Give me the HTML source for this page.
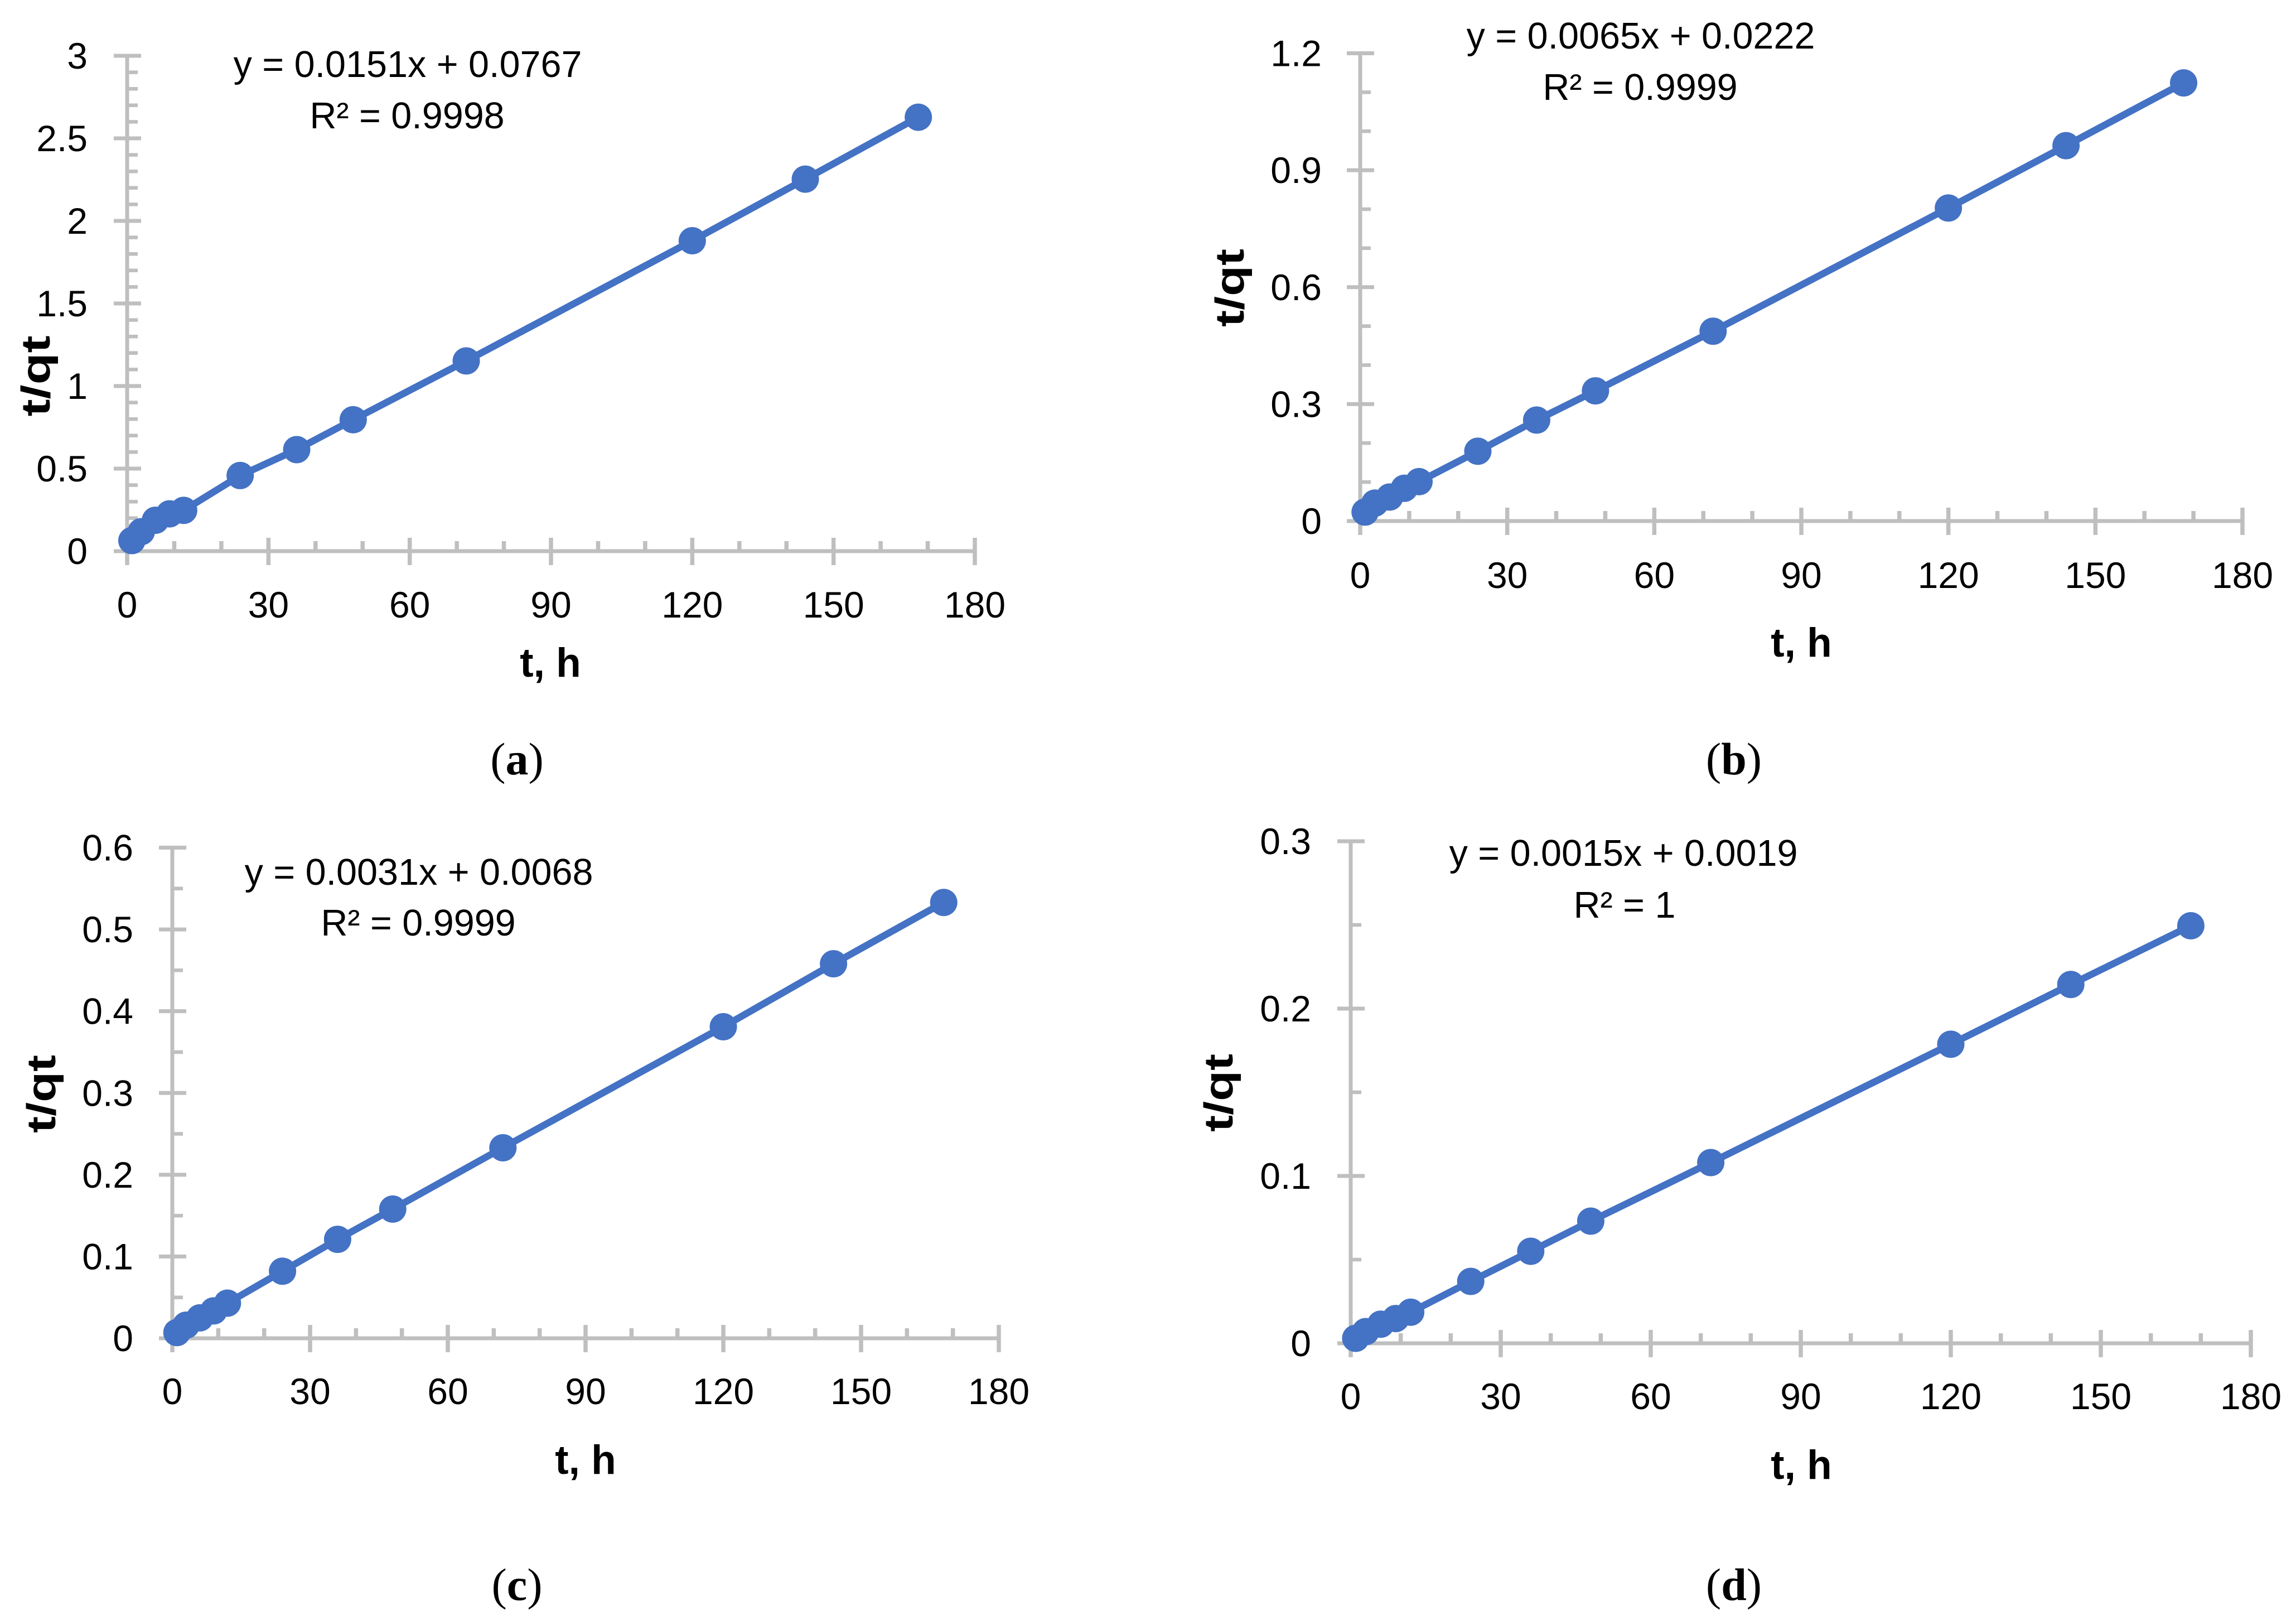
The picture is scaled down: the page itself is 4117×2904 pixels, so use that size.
<!DOCTYPE html>
<html lang="en">
<head>
<meta charset="utf-8">
<title>Pseudo-second-order kinetic plots of t/qt against t</title>
<style>
  html, body { margin: 0; padding: 0; background: #ffffff; }
  svg { display: block; }
  text { font-family: "Liberation Sans", sans-serif; fill: #000000; }
  .eq { font-size: 66.5px; text-anchor: middle; }
  .tick { font-size: 66px; }
  .ytitle { font-size: 72px; font-weight: bold; text-anchor: middle; }
  .xtitle { font-size: 73px; font-weight: bold; text-anchor: middle; }
  .cap { font-family: "Liberation Serif", serif; font-size: 82px; text-anchor: middle; }
  .cap .b { font-weight: bold; }
</style>
</head>
<body>
<svg xmlns="http://www.w3.org/2000/svg" width="4117" height="2904" viewBox="0 0 4117 2904">
  <rect x="0" y="0" width="4117" height="2904" fill="#ffffff"/>

  <g id="panel-a">
    <text class="eq" x="731" y="138">y = 0.0151x + 0.0767</text>
    <text class="eq" x="730" y="230">R² = 0.9998</text>
    <text class="ytitle" transform="translate(89,674) rotate(-90)" textLength="145" lengthAdjust="spacingAndGlyphs">t/qt</text>
    <text class="xtitle" x="987" y="1213">t, h</text>
    <text class="cap" x="927" y="1388">(<tspan class="b">a</tspan>)</text>
  </g>

  <g id="panel-b">
    <text class="eq" x="2942" y="87">y = 0.0065x + 0.0222</text>
    <text class="eq" x="2941" y="179">R² = 0.9999</text>
    <text class="ytitle" transform="translate(2230,516) rotate(-90)" textLength="140" lengthAdjust="spacingAndGlyphs">t/qt</text>
    <text class="xtitle" x="3230" y="1177">t, h</text>
    <text class="cap" x="3109" y="1388">(<tspan class="b">b</tspan>)</text>
  </g>

  <g id="panel-c">
    <text class="eq" x="751" y="1586">y = 0.0031x + 0.0068</text>
    <text class="eq" x="750" y="1677">R² = 0.9999</text>
    <text class="ytitle" transform="translate(99,1961) rotate(-90)" textLength="140" lengthAdjust="spacingAndGlyphs">t/qt</text>
    <text class="xtitle" x="1050" y="2642">t, h</text>
    <text class="cap" x="927" y="2868">(<tspan class="b">c</tspan>)</text>
  </g>

  <g id="panel-d">
    <text class="eq" x="2911" y="1552">y = 0.0015x + 0.0019</text>
    <text class="eq" x="2913" y="1645">R² = 1</text>
    <text class="ytitle" transform="translate(2210,1959) rotate(-90)" textLength="140" lengthAdjust="spacingAndGlyphs">t/qt</text>
    <text class="xtitle" x="3230" y="2651">t, h</text>
    <text class="cap" x="3109" y="2868">(<tspan class="b">d</tspan>)</text>
  </g>
</svg>

<script>
// ---- chart data ----
const hours = [1, 3, 6, 9, 12, 24, 36, 48, 72, 120, 144, 168];
const valuesA = [0.064, 0.118, 0.187, 0.226, 0.247, 0.458, 0.615, 0.796, 1.152, 1.88, 2.253, 2.628];
const valuesB = [0.023, 0.046, 0.0615, 0.084, 0.101, 0.179, 0.259, 0.334, 0.487, 0.803, 0.963, 1.124];
const valuesC = [0.007, 0.016, 0.025, 0.0335, 0.043, 0.082, 0.121, 0.158, 0.233, 0.381, 0.458, 0.533];
const valuesD = [0.003, 0.007, 0.0114, 0.0148, 0.0186, 0.037, 0.055, 0.073, 0.108, 0.1787, 0.2144, 0.2495];
const xTickLabels = ['0', '30', '60', '90', '120', '150', '180'];
const yTickLabelsA = ['0', '0.5', '1', '1.5', '2', '2.5', '3'];
const yTickLabelsB = ['0', '0.3', '0.6', '0.9', '1.2'];
const yTickLabelsC = ['0', '0.1', '0.2', '0.3', '0.4', '0.5', '0.6'];
const yTickLabelsD = ['0', '0.1', '0.2', '0.3'];

// ---- panel layout (pixels), separate from the data ----
const panels = [
  { id: 'a', values: valuesA, yLabels: yTickLabelsA, yMinorPerMajor: 5, x0: 228, x180: 1748, y0: 988, yTop: 100, labelRight: 157, xLabelBase: 1107 },
  { id: 'b', values: valuesB, yLabels: yTickLabelsB, yMinorPerMajor: 3, x0: 2439, x180: 4021, y0: 934, yTop: 95.5, labelRight: 2370, xLabelBase: 1054 },
  { id: 'c', values: valuesC, yLabels: yTickLabelsC, yMinorPerMajor: 2, x0: 309, x180: 1791, y0: 2399, yTop: 1519.5, labelRight: 239, xLabelBase: 2517 },
  { id: 'd', values: valuesD, yLabels: yTickLabelsD, yMinorPerMajor: 2, x0: 2422, x180: 4036, y0: 2408, yTop: 1508, labelRight: 2351, xLabelBase: 2526 }
];

const NS = 'http://www.w3.org/2000/svg';
const AXIS = '#BFBFBF';
const BLUE = '#4472C4';

function make(tag, parent, props) {
  const el = document.createElementNS(NS, tag);
  for (const k in props) el.setAttribute(k, props[k]);
  parent.appendChild(el);
  return el;
}

function drawPanel(p) {
  const root = document.getElementById('panel-' + p.id);
  const xMax = Number(xTickLabels[xTickLabels.length - 1]);
  const yMax = Number(p.yLabels[p.yLabels.length - 1]);
  const sx = function (v) { return p.x0 + (v / xMax) * (p.x180 - p.x0); };
  const sy = function (v) { return p.y0 - (v / yMax) * (p.y0 - p.yTop); };

  const axes = make('g', root, { stroke: AXIS, 'stroke-width': 7, fill: 'none' });
  
  

  const yLine = make('line', axes, { x1: sx(0), x2: sx(0), y1: sy(yMax) - 3, y2: p.y0 + 25 });
  
  

  const xLine = make('line', axes, { x1: sx(0) - 24, x2: sx(xMax) + 3, y1: p.y0, y2: p.y0 });
  
  

  // y ticks
  const yStep = Number(p.yLabels[1]) - Number(p.yLabels[0]);
  p.yLabels.forEach(function (lab) {
    const v = Number(lab);
    const t = make('line', axes, { x1: sx(0) - 24, x2: sx(0) + 25, y1: sy(v), y2: sy(v) });
    
    

    const txt = make('text', root, { class: 'tick', x: p.labelRight, y: sy(v) + 23, 'text-anchor': 'end' });
    txt.textContent = lab;
    
    

    if (v < yMax - yStep / 2) {
      for (let i = 1; i < p.yMinorPerMajor; i++) {
        const mv = v + (i * yStep) / p.yMinorPerMajor;
        const m = make('line', axes, { x1: sx(0), x2: sx(0) + 19, y1: sy(mv), y2: sy(mv), 'stroke-width': 6.5 });
        
        
      }
    }
  });

  // x ticks
  const xStep = Number(xTickLabels[1]);
  xTickLabels.forEach(function (lab) {
    const v = Number(lab);
    const t = make('line', axes, { x1: sx(v), x2: sx(v), y1: p.y0 - 24, y2: p.y0 + 25, 'stroke-width': 7.5 });
    
    

    const txt = make('text', root, { class: 'tick', x: sx(v), y: p.xLabelBase, 'text-anchor': 'middle' });
    txt.textContent = lab;
    
    

    if (v < xMax) {
      for (let i = 1; i < 3; i++) {
        const mv = v + (i * xStep) / 3;
        const m = make('line', axes, { x1: sx(mv), x2: sx(mv), y1: p.y0 - 18, y2: p.y0, 'stroke-width': 7.5 });
        
        
      }
    }
  });

  // series line
  const pts = hours.map(function (h, i) { return sx(h) + ',' + sy(p.values[i]); }).join(' ');
  const line = make('polyline', root, { points: pts, fill: 'none', stroke: BLUE, 'stroke-width': 12.5, 'stroke-linejoin': 'round' });
  
  

  // series points
  hours.forEach(function (h, i) {
    const c = make('circle', root, { cx: sx(h), cy: sy(p.values[i]), r: 24.5, fill: BLUE });
    
    
  });
}

panels.forEach(drawPanel);
</script>
</body>
</html>
